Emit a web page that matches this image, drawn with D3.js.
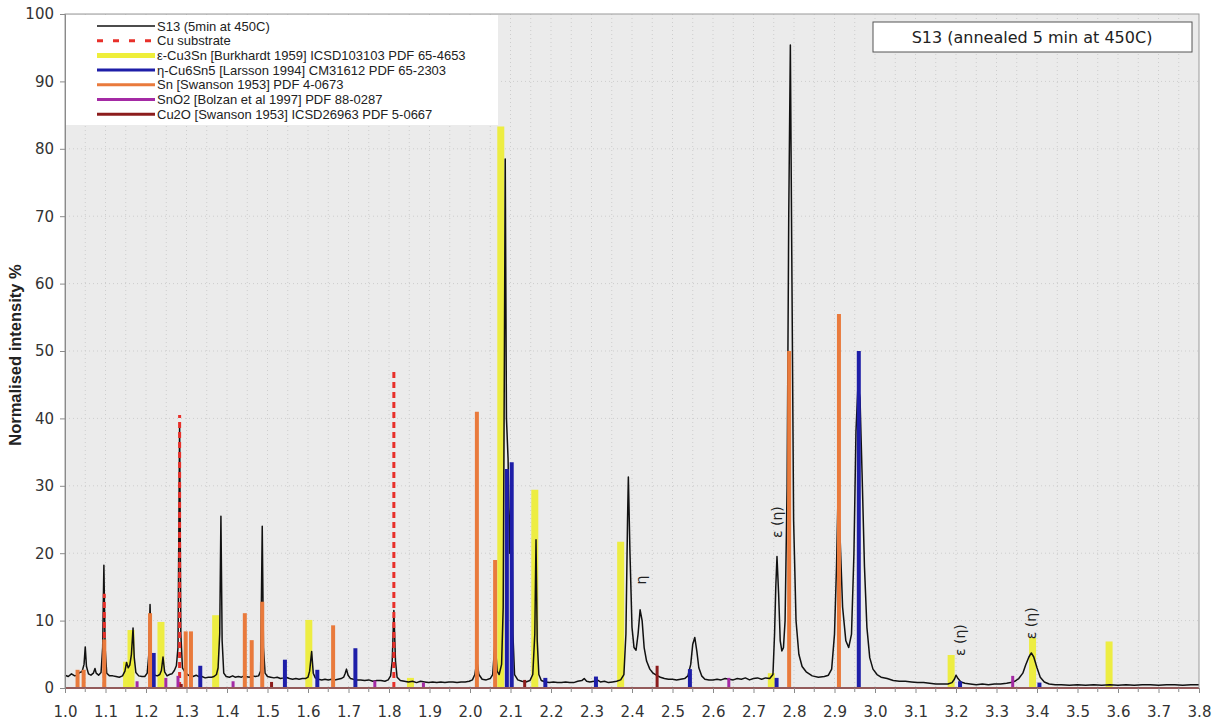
<!DOCTYPE html>
<html><head><meta charset="utf-8">
<script src="https://cdn.jsdelivr.net/npm/d3@7"></script>
<style>
body{margin:0;background:#fff;}
svg{display:block;}
</style></head>
<body>
<svg id="chart" width="1223" height="727"></svg>
<script>
// ---------------- DATA ----------------
const xTicks = [1.0,1.1,1.2,1.3,1.4,1.5,1.6,1.7,1.8,1.9,2.0,2.1,2.2,2.3,2.4,2.5,2.6,2.7,2.8,2.9,3.0,3.1,3.2,3.3,3.4,3.5,3.6,3.7,3.8];
const yTicks = [0,10,20,30,40,50,60,70,80,90,100];

const legendLabels = [
  "S13 (5min at 450C)",
  "Cu substrate",
  "ε-Cu3Sn [Burkhardt 1959] ICSD103103 PDF 65-4653",
  "η-Cu6Sn5 [Larsson 1994] CM31612 PDF 65-2303",
  "Sn [Swanson 1953] PDF 4-0673",
  "SnO2 [Bolzan et al 1997] PDF 88-0287",
  "Cu2O [Swanson 1953] ICSD26963 PDF 5-0667"
];
const titleText = "S13 (annealed 5 min at 450C)";
const yTitle = "Normalised intensity %";

// measured pattern S13: [d-spacing, intensity]
const s13 = [
[1.000,1.9],[1.008,1.7],[1.016,2.1],[1.024,1.8],[1.030,1.9],[1.036,2.3],[1.042,2.4],[1.047,3.5],[1.050,6.1],[1.053,3.2],
[1.058,2.1],[1.064,1.9],[1.070,2.2],[1.074,2.9],[1.077,2.2],[1.083,1.9],[1.089,2.3],[1.093,6],[1.096,18.2],[1.099,6],
[1.103,2.2],[1.110,1.8],[1.118,1.8],[1.126,1.7],[1.134,1.6],[1.142,1.8],[1.148,2.5],[1.152,3.8],[1.156,3.0],[1.160,3.4],
[1.164,5],[1.168,8.9],[1.171,4.5],[1.175,2.3],[1.182,1.8],[1.190,1.7],[1.197,1.7],[1.203,2.2],[1.207,5],[1.210,12.4],
[1.213,5],[1.217,2.4],[1.222,1.9],[1.228,1.8],[1.234,2.0],[1.238,2.6],[1.242,4.6],[1.246,2.4],[1.252,1.8],[1.258,2.0],
[1.264,2.1],[1.270,2.6],[1.275,3.3],[1.279,6],[1.283,38.7],[1.286,8],[1.290,3.0],[1.296,2.4],[1.302,2.0],[1.308,1.8],
[1.316,1.7],[1.324,1.9],[1.330,1.7],[1.338,1.7],[1.346,1.5],[1.354,1.6],[1.362,1.6],[1.368,1.7],[1.374,2.0],[1.378,3.0],
[1.382,8],[1.385,25.5],[1.388,7],[1.392,2.2],[1.398,1.7],[1.406,1.6],[1.414,1.8],[1.420,1.6],[1.428,1.7],[1.436,1.6],
[1.442,1.8],[1.447,1.7],[1.455,1.6],[1.462,1.8],[1.470,1.7],[1.478,1.8],[1.483,2.5],[1.487,24.0],[1.490,6],[1.494,2.2],
[1.500,1.7],[1.508,1.6],[1.516,1.5],[1.524,1.6],[1.532,1.4],[1.540,1.5],[1.546,1.6],[1.554,1.4],[1.562,1.3],[1.570,1.4],
[1.578,1.3],[1.586,1.4],[1.594,1.4],[1.600,1.6],[1.604,2.5],[1.609,5.4],[1.613,2.2],[1.618,1.5],[1.626,1.3],[1.634,1.2],
[1.642,1.3],[1.650,1.2],[1.658,1.3],[1.666,1.2],[1.674,1.3],[1.682,1.4],[1.688,1.6],[1.692,2.2],[1.695,2.8],[1.699,1.9],
[1.705,1.4],[1.712,1.3],[1.720,1.2],[1.730,1.2],[1.740,1.1],[1.750,1.2],[1.760,1.0],[1.770,1.1],[1.780,1.1],[1.790,1.0],
[1.798,1.2],[1.804,1.8],[1.808,4],[1.812,11.5],[1.816,4],[1.820,1.6],[1.828,1.1],[1.838,1.0],[1.848,0.9],[1.858,1.0],
[1.868,0.8],[1.878,1.0],[1.888,0.9],[1.898,0.8],[1.908,0.9],[1.918,0.8],[1.928,0.9],[1.938,0.8],[1.948,0.9],[1.958,0.9],
[1.968,0.8],[1.978,0.9],[1.988,0.9],[1.998,1.0],[2.006,1.2],[2.012,2.0],[2.017,4.0],[2.022,2.0],[2.030,1.3],[2.040,1.2],
[2.050,1.4],[2.056,2.0],[2.062,7],[2.067,2.5],[2.072,2.0],[2.078,3.5],[2.082,12],[2.085,50],[2.087,78.5],[2.090,40],
[2.094,34],[2.098,20],[2.103,33],[2.106,8],[2.110,2.0],[2.118,1.2],[2.128,1.0],[2.138,0.9],[2.148,1.1],[2.155,2.0],
[2.160,8],[2.163,22.0],[2.166,7],[2.170,2.0],[2.176,1.1],[2.186,0.9],[2.196,0.8],[2.206,0.9],[2.216,0.8],[2.226,0.8],
[2.236,0.9],[2.246,0.8],[2.256,0.8],[2.266,1.0],[2.276,1.1],[2.282,1.4],[2.288,1.0],[2.296,0.9],[2.306,1.0],[2.314,1.2],
[2.322,0.9],[2.332,1.0],[2.342,0.8],[2.352,0.9],[2.362,1.0],[2.372,1.2],[2.380,2.0],[2.385,8],[2.389,25],[2.391,31.3],
[2.395,20],[2.400,9],[2.405,6],[2.410,5.6],[2.415,8],[2.420,11.6],[2.425,10],[2.430,6],[2.436,4],[2.444,2.8],
[2.452,2.2],[2.460,1.9],[2.470,1.6],[2.480,1.4],[2.490,1.3],[2.500,1.3],[2.510,1.2],[2.520,1.3],[2.530,1.4],[2.538,1.8],
[2.545,3.5],[2.550,6.5],[2.555,7.5],[2.560,5.5],[2.565,3],[2.572,1.8],[2.580,1.3],[2.590,1.2],[2.600,1.2],[2.610,1.3],
[2.620,1.2],[2.630,1.4],[2.640,1.3],[2.650,1.2],[2.660,1.4],[2.670,1.3],[2.680,1.5],[2.690,1.2],[2.700,1.4],[2.710,1.5],
[2.720,1.3],[2.730,1.5],[2.740,1.4],[2.748,2.0],[2.752,8],[2.755,15],[2.758,19.5],[2.762,14],[2.766,7],[2.770,5.5],
[2.774,6],[2.778,10],[2.783,30],[2.787,70],[2.791,95.4],[2.795,60],[2.799,25],[2.805,10],[2.812,5],[2.820,3.2],
[2.830,2.4],[2.845,1.8],[2.860,1.6],[2.875,1.7],[2.885,1.9],[2.893,2.8],[2.900,8],[2.905,18],[2.909,29.5],[2.914,22],
[2.920,12],[2.928,7],[2.935,6],[2.942,8],[2.948,20],[2.953,38],[2.958,45],[2.963,43],[2.968,32],[2.974,18],
[2.980,9],[2.987,4.5],[2.995,2.8],[3.005,2.0],[3.015,1.6],[3.030,1.4],[3.045,1.1],[3.060,1.0],[3.075,1.0],[3.090,0.9],
[3.105,0.8],[3.120,0.8],[3.135,0.7],[3.150,0.6],[3.165,0.6],[3.180,0.6],[3.190,0.8],[3.196,1.3],[3.200,1.9],[3.205,1.4],
[3.212,0.9],[3.222,0.7],[3.235,0.6],[3.250,0.5],[3.265,0.6],[3.280,0.5],[3.295,0.6],[3.310,0.6],[3.325,0.7],[3.335,0.8],
[3.345,1.0],[3.355,1.4],[3.365,2.2],[3.372,3.4],[3.380,4.6],[3.386,5.2],[3.392,4.6],[3.400,3.0],[3.408,1.6],[3.418,0.9],
[3.430,0.6],[3.445,0.5],[3.460,0.5],[3.480,0.4],[3.500,0.5],[3.520,0.4],[3.540,0.5],[3.560,0.4],[3.580,0.5],[3.600,0.4],
[3.620,0.5],[3.640,0.4],[3.660,0.5],[3.680,0.5],[3.700,0.4],[3.720,0.5],[3.740,0.5],[3.760,0.4],[3.780,0.5],[3.800,0.5]
];

// reference stick patterns: [d-spacing, intensity]
const cuSubstrate = [[1.097,14],[1.283,40.5],[1.812,47]];
const epsCu3Sn = [[1.152,3.9],[1.163,8.6],[1.237,9.8],[1.372,10.8],[1.602,10.1],[1.853,1.5],[2.076,83.3],[2.160,29.4],[2.372,21.7],[2.744,2.2],[3.188,4.9],[3.389,7.5],[3.578,6.9]];
const etaCu6Sn5 = [[1.219,5.2],[1.334,3.3],[1.543,4.2],[1.623,2.7],[1.717,5.9],[2.091,32.5],[2.103,33.5],[2.186,1.5],[2.311,1.7],[2.543,2.8],[2.757,1.5],[2.960,50],[3.210,1.0],[3.406,0.8]];
const snTin = [[1.031,2.7],[1.046,2.7],[1.097,7.2],[1.210,11.1],[1.298,8.4],[1.311,8.4],[1.444,11.1],[1.461,7.1],[1.487,12.8],[1.662,9.3],[2.017,41],[2.062,19],[2.788,50],[2.911,55.5]];
const snO2 = [[1.178,1.0],[1.249,1.5],[1.279,1.8],[1.415,1.0],[1.765,1.1],[1.885,0.8],[2.639,1.5],[3.340,1.8]];
const cu2O = [[1.287,0.6],[1.510,0.9],[2.135,1.2],[2.462,3.3]];

// peak annotations: [d, intensity at label centre, text]
const annotations = [[2.757,24.6,"ε (η)"],[2.423,16,"η"],[3.210,7.1,"ε (η)"],[3.386,9.6,"ε (η)"]];

// ---------------- CHART ----------------
const svg = d3.select("#chart");
const L = 65, R = 1199, T = 14, B = 688;
const x = d3.scaleLinear().domain([1.0, 3.8]).range([L, R]);
const y = d3.scaleLinear().domain([0, 100]).range([B, T]);

// plot background
svg.append("rect").attr("x", L).attr("y", T).attr("width", R - L).attr("height", B - T)
  .attr("fill", "#ebebeb");

// grid
const gridX = d3.range(0, 57).map(i => 1.0 + i * 0.05);
svg.append("g").selectAll("line").data(gridX.slice(1, -1)).join("line")
  .attr("x1", d => x(d)).attr("x2", d => x(d)).attr("y1", T).attr("y2", B)
  .attr("stroke", "#cdcdcd").attr("stroke-width", 1).attr("stroke-dasharray", "1,3");
const gridY = yTicks.slice(1, -1);
svg.append("g").selectAll("line").data(gridY).join("line")
  .attr("x1", L).attr("x2", R).attr("y1", d => y(d)).attr("y2", d => y(d))
  .attr("stroke", "#cdcdcd").attr("stroke-width", 1).attr("stroke-dasharray", "1,3");

// sticks
function sticks(data, color, width, dash, opacity) {
  svg.append("g").selectAll("line").data(data).join("line")
    .attr("x1", d => x(d[0])).attr("x2", d => x(d[0]))
    .attr("y1", y(0)).attr("y2", d => y(d[1]))
    .attr("stroke", color).attr("stroke-width", width)
    .attr("stroke-dasharray", dash || null)
    .attr("opacity", opacity || 1);
}
const colors = {
  s13: "#111111", cu: "#e8302a", eps: "#eeee3a", eta: "#1e1ea8",
  sn: "#e97a3c", sno2: "#a42aa4", cu2o: "#8c1c1c"
};

sticks(epsCu3Sn, colors.eps, 7, null, 0.95);

const line = d3.line().x(d => x(d[0])).y(d => y(d[1]));
svg.append("path").datum(s13).attr("d", line).attr("fill", "none")
  .attr("stroke", colors.s13).attr("stroke-width", 1.5).attr("stroke-linejoin", "round");

sticks(cuSubstrate, colors.cu, 3, "6,4");
sticks(etaCu6Sn5, colors.eta, 4);
sticks(snTin, colors.sn, 4);
sticks(snO2, colors.sno2, 3);
sticks(cu2O, colors.cu2o, 3);

// baseline (stick series baseline)
svg.append("line").attr("x1", L).attr("x2", R).attr("y1", y(0)).attr("y2", y(0))
  .attr("stroke", colors.cu2o).attr("stroke-width", 2);

// plot border
svg.append("rect").attr("x", L).attr("y", T).attr("width", R - L).attr("height", B - T)
  .attr("fill", "none").attr("stroke", "#9a9a9a").attr("stroke-width", 1);

// axes
const tickFont = "DejaVu Sans, Verdana, sans-serif";
const xAxis = d3.axisBottom(x).tickValues(xTicks).tickFormat(d3.format(".1f")).tickSize(5).tickPadding(13);
const gx = svg.append("g").attr("transform", `translate(0,${B})`).call(xAxis);
gx.select(".domain").remove();
gx.selectAll("line").attr("stroke", "#8a8a8a");
gx.selectAll("text").attr("font-family", tickFont).attr("font-size", 15).attr("fill", "#333");
// minor ticks
svg.append("g").selectAll("line").data(gridX.filter((d, i) => i % 2 === 1)).join("line")
  .attr("x1", d => x(d)).attr("x2", d => x(d)).attr("y1", B).attr("y2", B + 4)
  .attr("stroke", "#8a8a8a");

const yAxis = d3.axisLeft(y).tickValues(yTicks).tickSize(5).tickPadding(6);
const gy = svg.append("g").attr("transform", `translate(${L},0)`).call(yAxis);
gy.select(".domain").attr("stroke", "#8a8a8a");
gy.selectAll("line").attr("stroke", "#8a8a8a");
gy.selectAll("text").attr("font-family", tickFont).attr("font-size", 15).attr("fill", "#333");

// y title
svg.append("text").attr("transform", `translate(21,${(T + B) / 2 + 4}) rotate(-90)`)
  .attr("text-anchor", "middle").attr("font-family", "Liberation Sans, Arial, sans-serif")
  .attr("font-weight", "bold").attr("font-size", 16.5).attr("fill", "#222").text(yTitle);

// annotations
svg.append("g").selectAll("text").data(annotations).join("text")
  .attr("transform", d => `translate(${x(d[0]) + 5},${y(d[1])}) rotate(-90)`)
  .attr("text-anchor", "middle")
  .attr("font-family", tickFont).attr("font-size", 14).attr("fill", "#222")
  .text(d => d[2]);

// legend
const legendKeys = ["s13", "cu", "eps", "eta", "sn", "sno2", "cu2o"];
const legendWidths = [1.5, 3, 5, 3, 3, 3, 3];
const lg = svg.append("g");
lg.append("rect").attr("x", L + 1).attr("y", T + 1).attr("width", 432).attr("height", 110).attr("fill", "#fff");
legendLabels.forEach((lab, i) => {
  const yy = 26 + i * 14.7;
  lg.append("line").attr("x1", 97).attr("x2", 155).attr("y1", yy).attr("y2", yy)
    .attr("stroke", colors[legendKeys[i]]).attr("stroke-width", legendWidths[i])
    .attr("stroke-dasharray", legendKeys[i] === "cu" ? "6,10" : null);
  lg.append("text").attr("x", 157).attr("y", yy + 4.5).attr("font-family", "Liberation Sans, Arial, sans-serif")
    .attr("font-size", 13).attr("fill", "#222").text(lab);
});

// title box
svg.append("rect").attr("x", 873).attr("y", 22).attr("width", 319).attr("height", 30)
  .attr("fill", "#fff").attr("stroke", "#555").attr("stroke-width", 1);
svg.append("text").attr("x", 1032).attr("y", 43).attr("text-anchor", "middle")
  .attr("font-family", tickFont).attr("font-size", 16).attr("fill", "#222")
  .text(titleText);
</script>
</body></html>
